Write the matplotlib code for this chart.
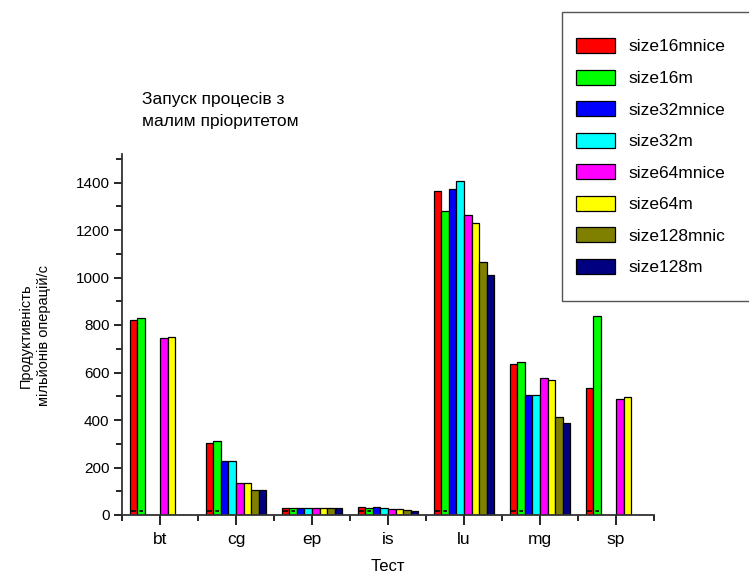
import numpy as np
import matplotlib.pyplot as plt
from matplotlib.ticker import MultipleLocator
from matplotlib.patches import Rectangle

plt.rcParams['font.family'] = ['Liberation Sans', 'DejaVu Sans']

# Data
tests = ['bt', 'cg', 'ep', 'is', 'lu', 'mg', 'sp']
series = ['size16mnice', 'size16m', 'size32mnice', 'size32m',
          'size64mnice', 'size64m', 'size128mnic', 'size128m']
colors = ['#FF0000', '#00FF00', '#0000FF', '#00FFFF',
          '#FF00FF', '#FFFF00', '#808000', '#000080']

size16mnice = [821, 302, 31, 32, 1364, 636, 533]
size16m     = [828, 310, 31, 29, 1279, 643, 837]
size32mnice = [0, 226, 28, 33, 1372, 504, 0]
size32m     = [0, 226, 30, 28, 1408, 507, 0]
size64mnice = [744, 133, 28, 26, 1265, 577, 489]
size64m     = [751, 133, 30, 24, 1229, 570, 496]
size128mnic = [0, 104, 30, 19, 1064, 411, 0]
size128m    = [0, 104, 30, 16, 1010, 386, 0]
values = [size16mnice, size16m, size32mnice, size32m,
          size64mnice, size64m, size128mnic, size128m]

fig = plt.figure(figsize=(7.49, 5.74), dpi=100)
ax = fig.add_axes([122 / 749, 1 - 515 / 574, 532 / 749, 361 / 574])

x = np.arange(1, len(tests) + 1)
w = 0.1
for i, (name, vals, c) in enumerate(zip(series, values, colors)):
    ax.bar(x + (i - 3.5) * w, vals, width=w, color=c, edgecolor='black',
           linewidth=0.9, label=name)

# small dashed marks seen near the base of the first two bars of each group
ax.hlines([15] * len(x), x - 3.5 * w - 0.03, x - 2.5 * w + 0.03,
          colors='black', linestyles=(0, (3, 2)), linewidth=1.2)

ax.set_xlim(0.5, 7.5)
ax.set_ylim(0, 1520)
ax.set_xticks(x)
ax.set_xticklabels(tests, fontsize=12.5)
ax.xaxis.set_minor_locator(MultipleLocator(1, offset=0.5))
ax.yaxis.set_major_locator(MultipleLocator(200))
ax.yaxis.set_minor_locator(MultipleLocator(100))
ax.tick_params(axis='y', which='major', length=6, width=1.2, labelsize=11, pad=3)
ax.tick_params(axis='y', which='minor', length=4, width=1.2)
ax.tick_params(axis='x', which='major', length=7, width=1.2, pad=5)
ax.tick_params(axis='x', which='minor', length=4, width=1.2)
for s in ['top', 'right']:
    ax.spines[s].set_visible(False)
for s in ['left', 'bottom']:
    ax.spines[s].set_linewidth(1.3)
    ax.spines[s].set_color('#333333')

ax.set_xlabel('Тест', fontsize=12, labelpad=9)
fig.text(35 / 749, 1 - 336 / 574, 'Продуктивність\nмільйонів операцій/с',
         rotation=90, ha='center', va='center', fontsize=10.5, linespacing=1.3)
fig.text(142 / 749, 1 - 92 / 574, 'Запуск процесів з\nмалим пріоритетом',
         ha='left', va='top', fontsize=12.5, linespacing=1.55)

# legend box runs past the right edge of the picture
fig.add_artist(Rectangle((562 / 749, 1 - 301 / 574), 240 / 749, 289 / 574,
                         transform=fig.transFigure, fill=False,
                         edgecolor='#555555', linewidth=1.0))
ax.legend(loc='upper left', bbox_to_anchor=(576 / 749, 1 - 38 / 574),
          bbox_transform=fig.transFigure, borderaxespad=0, borderpad=0,
          fontsize=12.5, handlelength=2.25, handleheight=0.95,
          handletextpad=0.75, labelspacing=0.87, frameon=False)

fig.savefig('out.png', dpi=100)
